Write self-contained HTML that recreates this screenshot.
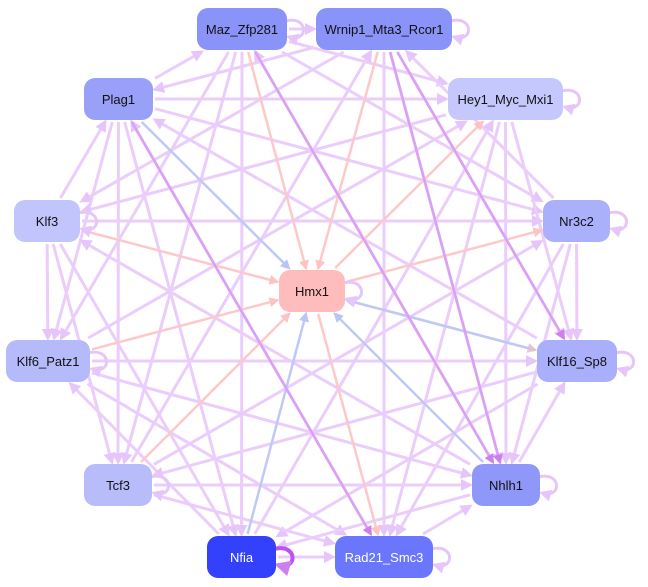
<!DOCTYPE html>
<html><head><meta charset="utf-8"><style>
html,body{margin:0;padding:0;background:#fff;width:648px;height:587px;overflow:hidden}
svg{position:absolute;left:0;top:0}
.n{position:absolute;border-radius:11px;display:flex;align-items:center;justify-content:center;font:13px "Liberation Sans",sans-serif;color:#111}
</style></head><body>
<svg id="s" width="648" height="587">
<defs>
<marker id="al" markerWidth="4" markerHeight="4" refX="3" refY="2" orient="auto" markerUnits="strokeWidth"><path d="M0,0L4,2L0,4z" fill="#e6c6fa"/></marker>
<marker id="ap" markerWidth="4" markerHeight="4" refX="3" refY="2" orient="auto" markerUnits="strokeWidth"><path d="M0,0L4,2L0,4z" fill="#fdc2c2"/></marker>
<marker id="ab" markerWidth="4" markerHeight="4" refX="3" refY="2" orient="auto" markerUnits="strokeWidth"><path d="M0,0L4,2L0,4z" fill="#bcc4f6"/></marker>
<marker id="am" markerWidth="4" markerHeight="4" refX="3" refY="2" orient="auto" markerUnits="strokeWidth"><path d="M0,0L4,2L0,4z" fill="#cf7ef0"/></marker>
</defs>
<g id="e"></g>
</svg>
<div id="nodes"></div>
<script>
var N=[
["Maz_Zfp281",197,8,90,42,"#8a93f8","#111"],
["Wrnip1_Mta3_Rcor1",316,8,136,42,"#8a93f8","#111"],
["Plag1",84,78,69,42,"#99a0f8","#111"],
["Hey1_Myc_Mxi1",448,78,115,42,"#c5c8fc","#111"],
["Klf3",14,200,66,42,"#c2c5fc","#111"],
["Nr3c2",543,200,67,42,"#aab0fa","#111"],
["Hmx1",279,270,66,42,"#ffbcbc","#111"],
["Klf6_Patz1",6,340,84,42,"#b5bafb","#111"],
["Klf16_Sp8",537,340,80,42,"#a9affa","#111"],
["Tcf3",84,464,68,42,"#b8bcfb","#111"],
["Nhlh1",472,464,68,42,"#8f98f8","#111"],
["Nfia",207,536,69,42,"#3341fd","#fff"],
["Rad21_Smc3",335,536,98,42,"#6a76fb","#fff"]];
var g=document.getElementById('e'),h='';
function c(i){return [N[i][1]+N[i][3]/2,N[i][2]+N[i][4]/2]}
function clip(a,b,i){var n=N[i],dx=b[0]-a[0],dy=b[1]-a[1];var hw=n[3]/2+2,hh=n[4]/2+2;var t=Math.min(Math.abs(hw/(dx||1e-6)),Math.abs(hh/(dy||1e-6)));return [a[0]+dx*t,a[1]+dy*t]}
function line(i,j,col,m,w,off){var a=c(i),b=c(j);var dx=b[0]-a[0],dy=b[1]-a[1],L=Math.hypot(dx,dy);var ox=-dy/L*off,oy=dx/L*off;a=[a[0]+ox,a[1]+oy];b=[b[0]+ox,b[1]+oy];var p=clip(a,b,i),q=clip(b,a,j);
h+='<line x1="'+p[0]+'" y1="'+p[1]+'" x2="'+q[0]+'" y2="'+q[1]+'" stroke="'+col+'" stroke-width="'+w+'" marker-end="url(#'+m+')"/>';}
for(var i=0;i<N.length;i++)for(var j=i+1;j<N.length;j++){if(i==6||j==6)continue;if((i*7+j*3)%4==0)continue;
 if((i+j)%2)line(i,j,"#eacdfb","al",3,0);else line(j,i,"#eacdfb","al",3,0);}
var pink=[[4,6],[6,5],[6,3],[9,6],[6,8],[0,6],[1,6],[6,12],[7,6]];
pink.forEach(function(p){line(p[0],p[1],"#fdc8c8","ap",2.5,0)});
var blue=[[2,6],[11,6],[10,6],[8,6]];
blue.forEach(function(p){line(p[0],p[1],"#c0c8f6","ab",2.5,0)});
[[0,10],[1,10],[1,8],[2,12]].forEach(function(p){line(p[0],p[1],"#d9a0f4","am",2.5,0)});
N.forEach(function(n,i){if(i==2)return;var x=n[1]+n[3],y=n[2]+n[4]/2;var col=i==11?"#c050f0":"#e6c6fa";var w=i==11?4:3;
h+='<path d="M'+(x-2)+','+(y-8)+' C'+(x+22)+','+(y-14)+' '+(x+22)+','+(y+14)+' '+(x+2)+','+(y+8)+'" fill="none" stroke="'+col+'" stroke-width="'+w+'" marker-end="url(#'+(i==11?'am':'al')+')"/>';});
g.innerHTML=h;
var d='';N.forEach(function(n){d+='<div class="n" style="left:'+n[1]+'px;top:'+n[2]+'px;width:'+n[3]+'px;height:'+n[4]+'px;background:'+n[5]+';color:'+n[6]+'">'+n[0]+'</div>'});
document.getElementById('nodes').innerHTML=d;
</script>
</body></html>
